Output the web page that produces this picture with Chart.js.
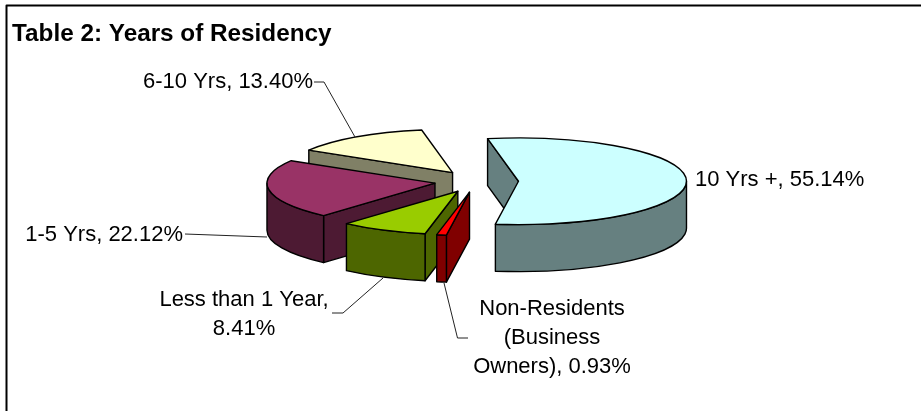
<!DOCTYPE html>
<html>
<head>
<meta charset="utf-8">
<style>
  html, body { margin: 0; padding: 0; background: #fff; overflow: hidden; }
  canvas { display: block; }
</style>
</head>
<body>
<canvas id="residency" width="921" height="411"></canvas>
<script src="https://cdn.jsdelivr.net/npm/chart.js@4/dist/chart.umd.min.js"></script>
<script>
const categories = ["10 Yrs +", "Non-Residents\n(Business\nOwners)", "Less than 1 Year", "1-5 Yrs", "6-10 Yrs"];
const shares = [55.14, 0.93, 8.41, 22.12, 13.40];
const separators = [", ", ", ", ",\n", ", ", ", "];
const topColors = ["#CCFFFF", "#FF0000", "#99CC00", "#993366", "#FFFFCC"];
const sideColors = ["#668080", "#800000", "#4D6600", "#4D1A33", "#808066"];

// label anchors and leader lines, same order as categories
const labelAnchors = [
  { x: 695, y: 180, align: "left" },
  { x: 552, y: 309, align: "center" },
  { x: 244, y: 300, align: "center" },
  { x: 183, y: 235, align: "right" },
  { x: 313, y: 82, align: "right" },
];
const leaders = [
  [],
  [[468, 338], [457.5, 338], [444, 283]],
  [[332, 313], [343, 313], [383, 278]],
  [[185, 234], [267, 237]],
  [[314, 82], [324, 82], [355, 137]],
];

const pieX = 476.5;
const pieY = 181.5;
const tilt = 0.258;
const explode = 42;
const depth = 47;
const labelFont = '22px "Liberation Sans", Arial, sans-serif';

function drawSlice(ctx, arc, i) {
  const mid = (arc.startAngle + arc.endAngle) / 2;
  const x = pieX + explode * Math.cos(mid);
  const y = pieY + explode * tilt * Math.sin(mid);
  const r = arc.outerRadius;
  const pt = (a, h) => [x + r * Math.cos(a), y + r * tilt * Math.sin(a) + h];

  ctx.lineWidth = 1.4;
  ctx.strokeStyle = "#000";
  ctx.lineJoin = "round";
  ctx.fillStyle = sideColors[i];

  // flat wall along a cut edge, skipped when it faces away
  const wall = (a) => {
    const p = pt(a, 0);
    ctx.beginPath();
    ctx.moveTo(x, y);
    ctx.lineTo(p[0], p[1]);
    ctx.lineTo(p[0], p[1] + depth);
    ctx.lineTo(x, y + depth);
    ctx.closePath();
    ctx.fill();
    ctx.stroke();
  };
  if (Math.cos(arc.startAngle) < 0) wall(arc.startAngle);
  if (Math.cos(arc.endAngle) > 0) wall(arc.endAngle);

  // rim, only the part facing the viewer
  const lo = Math.max(arc.startAngle, 0);
  const hi = Math.min(arc.endAngle, Math.PI);
  if (hi > lo) {
    ctx.beginPath();
    ctx.ellipse(x, y, r, r * tilt, 0, lo, hi);
    ctx.ellipse(x, y + depth, r, r * tilt, 0, hi, lo, true);
    ctx.closePath();
    ctx.fill();
    ctx.stroke();
  }

  // top face is the library's own arc, squashed
  ctx.save();
  ctx.translate(x, y);
  ctx.scale(1, tilt);
  ctx.translate(-arc.x, -arc.y);
  arc.draw(ctx);
  ctx.restore();

  ctx.beginPath();
  ctx.moveTo(x, y);
  ctx.ellipse(x, y, r, r * tilt, 0, arc.startAngle, arc.endAngle);
  ctx.closePath();
  ctx.stroke();
}

const pie3d = {
  id: "pie3d",
  beforeDatasetsDraw(chart) {
    const ctx = chart.ctx;
    const arcs = chart.getDatasetMeta(0).data;
    for (let i = arcs.length - 1; i >= 0; i--) {
      drawSlice(ctx, arcs[i], i);
    }
    return false;
  },
  afterDraw(chart) {
    const ctx = chart.ctx;
    ctx.save();

    // frame: only top and left show in the picture
    ctx.strokeStyle = "#000";
    ctx.lineWidth = 2;
    ctx.beginPath();
    ctx.moveTo(6.5, 411);
    ctx.lineTo(6.5, 5.5);
    ctx.lineTo(921, 5.5);
    ctx.stroke();

    ctx.lineWidth = 1;
    ctx.strokeStyle = "#222";
    leaders.forEach((line) => {
      if (!line.length) return;
      ctx.beginPath();
      line.forEach((p, n) => (n ? ctx.lineTo(p[0], p[1]) : ctx.moveTo(p[0], p[1])));
      ctx.stroke();
    });

    ctx.fillStyle = "#000";
    ctx.font = labelFont;
    ctx.textBaseline = "middle";
    categories.forEach((name, i) => {
      const text = name + separators[i] + shares[i].toFixed(2) + "%";
      ctx.textAlign = labelAnchors[i].align;
      text.split("\n").forEach((line, n) => {
        ctx.fillText(line, labelAnchors[i].x, labelAnchors[i].y + n * 29);
      });
    });
    ctx.restore();
  },
};

new Chart(document.getElementById("residency"), {
  type: "pie",
  data: {
    labels: categories,
    datasets: [{
      data: shares,
      backgroundColor: topColors,
      borderWidth: 0,
    }],
  },
  options: {
    responsive: false,
    animation: false,
    radius: 168,
    rotation: -10.6,
    layout: { padding: { left: 12 } },
    plugins: {
      legend: { display: false },
      tooltip: { enabled: false },
      title: {
        display: true,
        text: "Table 2: Years of Residency",
        align: "start",
        color: "#000",
        font: { family: '"Liberation Sans", Arial, sans-serif', size: 24.3, weight: "bold" },
        padding: { top: 20, bottom: 10 },
      },
    },
  },
  plugins: [pie3d],
});
</script>
</body>
</html>
